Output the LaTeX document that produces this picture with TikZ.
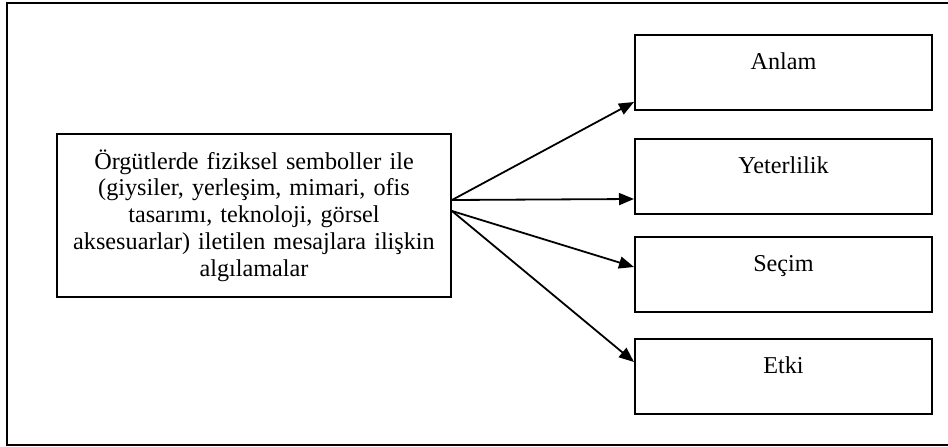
\documentclass[tikz,border=0pt]{standalone}
\usepackage{fontspec}
\setmainfont{Liberation Serif}
\usetikzlibrary{arrows.meta}
\begin{document}
\begin{tikzpicture}[x=1pt,y=-1pt,
  txt/.style={font=\fontsize{24.2pt}{26.8pt}\selectfont},
  box/.style={draw, line width=2pt, inner sep=0pt, txt},
  rbox/.style={box, anchor=north west, minimum width=297pt, text height=34pt, text depth=41pt},
  arr/.style={line width=1.8pt, -{Triangle[length=15pt,width=12pt]}}]
\useasboundingbox (0,0) rectangle (948,447);
\draw[line width=2pt] (7,3) rectangle (949,445);
\node[box, minimum width=394pt, minimum height=163pt, text width=390pt, align=center] (src) at (254,215.5)
  {Örgütlerde fiziksel semboller ile\\(giysiler, yerleşim, mimari, ofis\\tasarımı, teknoloji, görsel\\aksesuarlar) iletilen mesajlara ilişkin\\algılamalar};
\node[rbox] (anlam) at (634,34) {Anlam};
\node[rbox] (yet) at (634,138) {Yeterlilik};
\node[rbox] (secim) at (634,236) {Seçim};
\node[rbox] (etki) at (634,338) {Etki};
\draw[arr] (src.east |- 0,200) -- (anlam.west |- 0,102);
\draw[arr] (src.east |- 0,200) -- (yet.west |- 0,199);
\draw[arr] (src.east |- 0,211) -- (secim.west |- 0,267);
\draw[arr] (src.east |- 0,211) -- (etki.west |- 0,362);
\end{tikzpicture}
\end{document}
